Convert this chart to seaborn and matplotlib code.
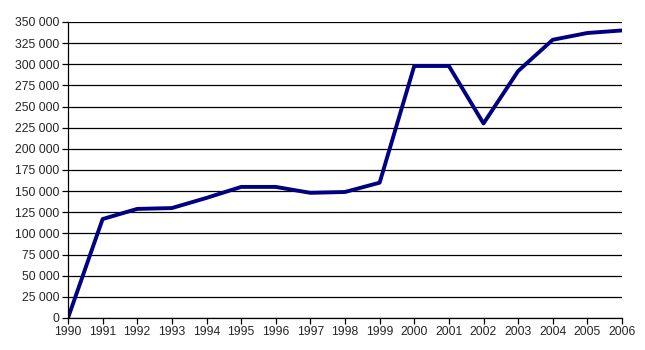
import pandas as pd
import matplotlib.pyplot as plt
import seaborn as sns
from matplotlib.ticker import FuncFormatter, MultipleLocator

years = list(range(1990, 2007))
values = [0, 117000, 129000, 130000, 142000, 155000, 155000, 148000, 149000,
          160000, 298000, 298000, 230000, 292000, 329000, 337000, 340000]

df = pd.DataFrame({'year': years, 'value': values})

sns.set_style('white')
plt.rcParams['font.family'] = ['Liberation Sans', 'DejaVu Sans']

fig = plt.figure(figsize=(6.45, 3.5), dpi=100)
ax = fig.add_axes([68 / 645, 32 / 350, (622 - 68) / 645, (318 - 22) / 350])

sns.lineplot(data=df, x='year', y='value', ax=ax, color='#000080', linewidth=2.8)

ax.set_xlim(1990, 2006)
ax.set_ylim(0, 350000)
ax.set_xticks(years)
ax.yaxis.set_major_locator(MultipleLocator(25000))
ax.yaxis.set_major_formatter(FuncFormatter(lambda v, p: f'{int(v):,}'.replace(',', ' ')))
ax.grid(axis='y', color='black', linewidth=0.9)
ax.set_axisbelow(True)
ax.set_xlabel('')
ax.set_ylabel('')

for s in ['top', 'right']:
    ax.spines[s].set_visible(False)
for s in ['left', 'bottom']:
    ax.spines[s].set_color('black')
    ax.spines[s].set_linewidth(0.9)

ax.tick_params(axis='both', which='major', direction='out', length=4, width=0.9,
               color='black', labelsize=8.8, pad=2, left=True, bottom=True)

fig.savefig('out.png', dpi=100)
